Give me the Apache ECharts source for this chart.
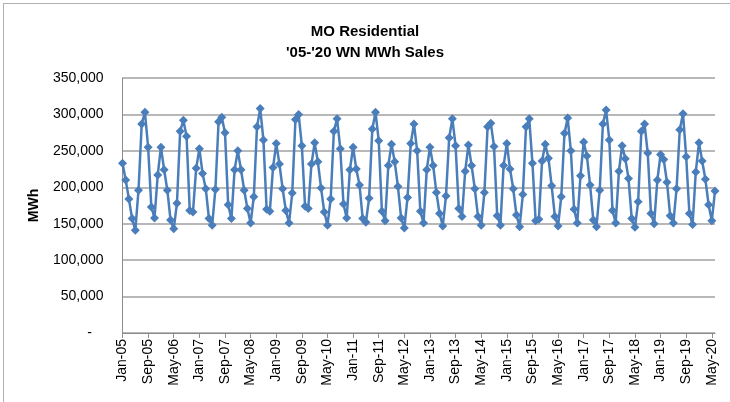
<!DOCTYPE html>
<html>
<head>
<meta charset="utf-8">
<script src="https://cdn.jsdelivr.net/npm/echarts@6/dist/echarts.min.js"></script>
<style>
  html, body { margin: 0; padding: 0; background: #fff; }
  #frame { position: absolute; left: 3px; top: 3px; width: 740px; height: 410px; border: 1px solid #b0b0b0; box-sizing: border-box; }
  #chart { position: absolute; left: 0; top: 0; width: 730px; height: 402px; }
</style>
</head>
<body>
<div id="frame"></div>
<div id="chart"></div>
<script>
// monthly MWh sales, Jan-05 .. Jun-20 (thousands)
const years = ['05','06','07','08','09','10','11','12','13','14','15','16','17','18','19','20'];
const monthNames = ['Jan','Feb','Mar','Apr','May','Jun','Jul','Aug','Sep','Oct','Nov','Dec'];

const sales2005 = [233, 210, 184, 157, 141, 196, 287, 303, 255, 173, 158, 217];
const sales2006 = [255, 224, 196, 155, 143, 178, 277, 292, 270, 168, 166, 226];
const sales2007 = [253, 219, 198, 157, 148, 197, 290, 296, 275, 176, 157, 224];
const sales2008 = [250, 224, 196, 171, 151, 187, 283, 308, 265, 170, 167, 227];
const sales2009 = [260, 232, 198, 168, 151, 192, 293, 300, 257, 174, 171, 232];
const sales2010 = [261, 235, 199, 166, 148, 184, 277, 294, 253, 177, 158, 224];
const sales2011 = [255, 225, 203, 157, 152, 185, 280, 303, 264, 167, 154, 230];
const sales2012 = [259, 235, 201, 158, 144, 186, 260, 287, 250, 167, 151, 224];
const sales2013 = [255, 230, 193, 164, 147, 188, 268, 294, 257, 171, 160, 222];
const sales2014 = [258, 230, 198, 160, 148, 193, 283, 288, 256, 161, 148, 230];
const sales2015 = [260, 225, 198, 162, 146, 190, 283, 294, 233, 154, 156, 236];
const sales2016 = [259, 240, 202, 160, 147, 187, 274, 295, 250, 170, 151, 216];
const sales2017 = [262, 243, 203, 155, 146, 196, 287, 306, 265, 168, 151, 222];
const sales2018 = [257, 239, 212, 157, 145, 180, 277, 287, 247, 164, 150, 210];
const sales2019 = [245, 238, 207, 161, 151, 198, 279, 301, 242, 164, 149, 221];
const sales2020 = [261, 236, 211, 176, 154, 195];

const sales = [].concat(sales2005, sales2006, sales2007, sales2008, sales2009, sales2010,
  sales2011, sales2012, sales2013, sales2014, sales2015, sales2016, sales2017, sales2018,
  sales2019, sales2020).map(v => v * 1000);

const months = [];
years.forEach(y => monthNames.forEach(m => months.push(m + '-' + y)));
months.length = sales.length;

const yTicks = [0, 50000, 100000, 150000, 200000, 250000, 300000, 350000];

const chart = echarts.init(document.getElementById('chart'));
const font = 'Liberation Sans, Arial, sans-serif';

chart.setOption({
  animation: false,
  title: {
    text: "MO Residential\n'05-'20 WN MWh Sales",
    left: 'center',
    top: 16,
    textStyle: { fontFamily: font, fontSize: 15, fontWeight: 'bold', color: '#000', lineHeight: 21 }
  },
  grid: { left: 122.5, right: 15, top: 78, bottom: 69 },
  xAxis: {
    type: 'category',
    data: months,
    boundaryGap: false,
    axisLine: { lineStyle: { color: '#8c8c8c', width: 1 } },
    axisTick: { interval: 7, length: 5, lineStyle: { color: '#8c8c8c' } },
    axisLabel: {
      interval: 7, rotate: 90, margin: 6,
      fontFamily: font, fontSize: 14, color: '#000'
    },
    splitLine: { show: false }
  },
  yAxis: {
    type: 'value',
    min: yTicks[0],
    max: yTicks[yTicks.length - 1],
    interval: 50000,
    name: 'MWh',
    nameLocation: 'middle',
    nameGap: 81,
    nameRotate: 90,
    nameTextStyle: { fontFamily: font, fontSize: 14, fontWeight: 'bold', color: '#000' },
    axisLine: { show: true, lineStyle: { color: '#8c8c8c', width: 1 } },
    axisTick: { show: false },
    axisLabel: {
      margin: 19,
      fontFamily: font, fontSize: 14, color: '#000',
      formatter: v => v === 0 ? '-   ' : v.toLocaleString('en-US')
    },
    splitLine: { lineStyle: { color: '#a0a0a0', width: 1.5 } }
  },
  series: [{
    type: 'line',
    data: sales,
    symbol: 'diamond',
    symbolSize: 9,
    showAllSymbol: true,
    lineStyle: { color: '#4a7ebb', width: 2.5 },
    itemStyle: { color: '#4a7ebb' }
  }]
});
</script>
</body>
</html>
